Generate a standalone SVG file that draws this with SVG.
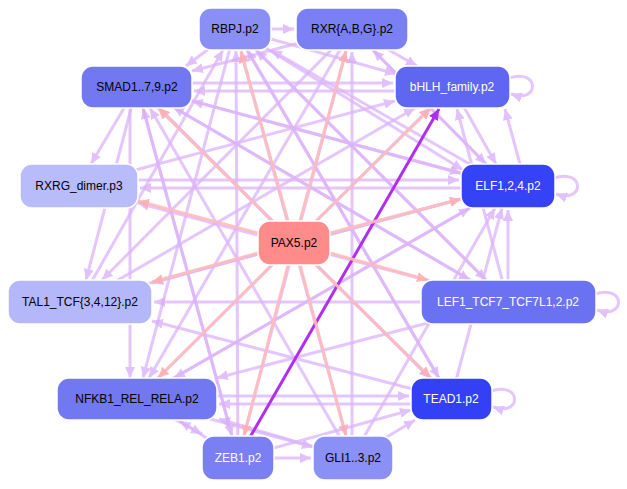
<svg xmlns="http://www.w3.org/2000/svg" width="627" height="489" viewBox="0 0 627 489">
<style>
.e line,.e path{stroke:#dcb4fb;stroke-width:3;fill:none;opacity:.75;marker-end:url(#ml)}
.p line{stroke:#ffbcbc;stroke-width:3;opacity:.9;marker-end:url(#mp)}
.n rect{stroke:#fff;stroke-width:1.5}
text{font-family:"Liberation Sans",Arial,sans-serif;font-size:12px;text-anchor:middle;dominant-baseline:central}
.w{fill:#fff}
</style>
<defs>
<marker id="ml" markerUnits="userSpaceOnUse" markerWidth="12" markerHeight="10" refX="11" refY="5" orient="auto"><path d="M0,0L11,5L0,10z" fill="#d8acfa"/></marker>
<marker id="mp" markerUnits="userSpaceOnUse" markerWidth="12" markerHeight="10" refX="11" refY="5" orient="auto"><path d="M0,0L11,5L0,10z" fill="#ffb0b0"/></marker>
<marker id="mv" markerUnits="userSpaceOnUse" markerWidth="12" markerHeight="10" refX="11" refY="5" orient="auto"><path d="M0,0L11,5L0,10z" fill="#b02ef0"/></marker>
</defs>
<g id="connectors">
<g class="e">
<line x1="271" y1="29" x2="294" y2="29"/>
<line x1="235" y1="29" x2="186" y2="66"/>
<line x1="235" y1="29" x2="396" y2="74"/>
<line x1="235" y1="29" x2="463" y2="170"/>
<line x1="235" y1="29" x2="439" y2="378"/>
<line x1="235" y1="29" x2="143" y2="378"/>
<line x1="235" y1="29" x2="486" y2="280"/>
<line x1="352" y1="29" x2="417" y2="66"/>
<line x1="352" y1="29" x2="192" y2="71"/>
<line x1="352" y1="29" x2="486" y2="164"/>
<line x1="352" y1="29" x2="102" y2="280"/>
<line x1="352" y1="29" x2="149" y2="378"/>
<line x1="192" y1="83" x2="393" y2="83"/>
<line x1="395" y1="91" x2="194" y2="91"/>
<line x1="137" y1="86" x2="91" y2="164"/>
<line x1="137" y1="86" x2="86" y2="280"/>
<line x1="130" y1="86" x2="130" y2="378"/>
<line x1="137" y1="86" x2="232" y2="436"/>
<line x1="137" y1="86" x2="461" y2="173"/>
<line x1="137" y1="86" x2="470" y2="280"/>
<line x1="137" y1="86" x2="430" y2="378"/>
<line x1="452" y1="86" x2="496" y2="164"/>
<line x1="520" y1="164" x2="505" y2="109"/>
<line x1="461" y1="188" x2="140" y2="188"/>
<line x1="508" y1="186" x2="152" y2="283"/>
<line x1="508" y1="186" x2="174" y2="378"/>
<line x1="508" y1="186" x2="192" y2="101"/>
<line x1="508" y1="186" x2="271" y2="50"/>
<line x1="508" y1="186" x2="373" y2="50"/>
<line x1="508" y1="280" x2="508" y2="210"/>
<line x1="421" y1="302" x2="154" y2="302"/>
<line x1="508" y1="302" x2="173" y2="107"/>
<line x1="508" y1="302" x2="138" y2="203"/>
<line x1="508" y1="302" x2="457" y2="109"/>
<line x1="508" y1="302" x2="217" y2="378"/>
<line x1="508" y1="302" x2="256" y2="50"/>
<line x1="217" y1="396" x2="409" y2="396"/>
<line x1="411" y1="404" x2="219" y2="404"/>
<line x1="137" y1="399" x2="202" y2="434"/>
<line x1="238" y1="458" x2="180" y2="421"/>
<line x1="137" y1="399" x2="313" y2="447"/>
<line x1="137" y1="399" x2="470" y2="208"/>
<line x1="137" y1="399" x2="430" y2="108"/>
<line x1="274" y1="458" x2="311" y2="458"/>
<line x1="238" y1="458" x2="411" y2="410"/>
<line x1="238" y1="458" x2="143" y2="108"/>
<line x1="238" y1="458" x2="236" y2="51"/>
<line x1="238" y1="458" x2="346" y2="51"/>
<line x1="352" y1="458" x2="415" y2="420"/>
<line x1="352" y1="458" x2="219" y2="419"/>
<line x1="352" y1="458" x2="150" y2="108"/>
<line x1="352" y1="458" x2="241" y2="52"/>
<line x1="352" y1="436" x2="352" y2="52"/>
<line x1="352" y1="458" x2="495" y2="208"/>
<line x1="451" y1="399" x2="159" y2="108"/>
<line x1="451" y1="399" x2="247" y2="50"/>
<line x1="451" y1="399" x2="502" y2="208"/>
<line x1="451" y1="399" x2="152" y2="321"/>
<line x1="79" y1="185" x2="395" y2="101"/>
<line x1="138" y1="180" x2="459" y2="180"/>
<line x1="80" y1="302" x2="461" y2="199"/>
<line x1="80" y1="302" x2="415" y2="108"/>
<line x1="80" y1="302" x2="223" y2="50"/>
<path d="M509,78 C540,68 540,104 511,94"/>
<path d="M554,178 C585,168 585,204 556,194"/>
<path d="M595,294 C626,284 626,320 597,310"/>
<path d="M491,391 C522,381 522,417 493,407"/>
</g>
<line x1="238" y1="458" x2="439" y2="109" stroke="#b02ef0" stroke-width="3" marker-end="url(#mv)"/>
<g class="p">
<line x1="288" y1="221" x2="241" y2="51"/>
<line x1="300" y1="221" x2="346" y2="51"/>
<line x1="272" y1="221" x2="158" y2="108"/>
<line x1="316" y1="221" x2="431" y2="108"/>
<line x1="258" y1="233" x2="138" y2="201"/>
<line x1="330" y1="233" x2="461" y2="199"/>
<line x1="258" y1="253" x2="152" y2="282"/>
<line x1="330" y1="253" x2="428" y2="280"/>
<line x1="272" y1="265" x2="158" y2="378"/>
<line x1="316" y1="265" x2="431" y2="378"/>
<line x1="288" y1="265" x2="244" y2="436"/>
<line x1="300" y1="265" x2="346" y2="436"/>
</g>
</g>
<g class="n">
<g id="RBPJ"><rect x="199" y="8" width="72" height="42" rx="12" fill="#8a8ff6"/><text x="235" y="29">RBPJ.p2</text></g>
<g id="RXR"><rect x="296" y="8" width="112" height="42" rx="12" fill="#7a80f3"/><text x="352" y="29">RXR{A,B,G}.p2</text></g>
<g id="SMAD"><rect x="81" y="66" width="111" height="42" rx="12" fill="#7278f2"/><text x="137" y="87">SMAD1..7,9.p2</text></g>
<g id="bHLH"><rect x="395" y="66" width="115" height="42" rx="12" fill="#5f66f2"/><text class="w" x="452" y="87">bHLH_family.p2</text></g>
<g id="RXRG"><rect x="20" y="164" width="118" height="44" rx="12" fill="#b9bcfa"/><text x="79" y="186">RXRG_dimer.p3</text></g>
<g id="ELF"><rect x="461" y="164" width="94" height="44" rx="12" fill="#3542f5"/><text class="w" x="508" y="186">ELF1,2,4.p2</text></g>
<g id="PAX5"><rect x="258" y="221" width="72" height="44" rx="12" fill="#ff8b8b"/><text x="294" y="243">PAX5.p2</text></g>
<g id="TAL1"><rect x="8" y="280" width="144" height="44" rx="12" fill="#b4b8fa"/><text x="80" y="302">TAL1_TCF{3,4,12}.p2</text></g>
<g id="LEF1"><rect x="421" y="280" width="175" height="44" rx="12" fill="#6b72f2"/><text class="w" x="508" y="302">LEF1_TCF7_TCF7L1,2.p2</text></g>
<g id="NFKB1"><rect x="57" y="378" width="160" height="42" rx="12" fill="#7278f2"/><text x="137" y="399">NFKB1_REL_RELA.p2</text></g>
<g id="TEAD1"><rect x="411" y="378" width="81" height="42" rx="12" fill="#3340f5"/><text class="w" x="451" y="399">TEAD1.p2</text></g>
<g id="ZEB1"><rect x="202" y="436" width="72" height="44" rx="12" fill="#7a80f3"/><text class="w" x="238" y="458">ZEB1.p2</text></g>
<g id="GLI"><rect x="313" y="436" width="80" height="44" rx="12" fill="#8a90f6"/><text x="353" y="458">GLI1..3.p2</text></g>
</g>
</svg>
